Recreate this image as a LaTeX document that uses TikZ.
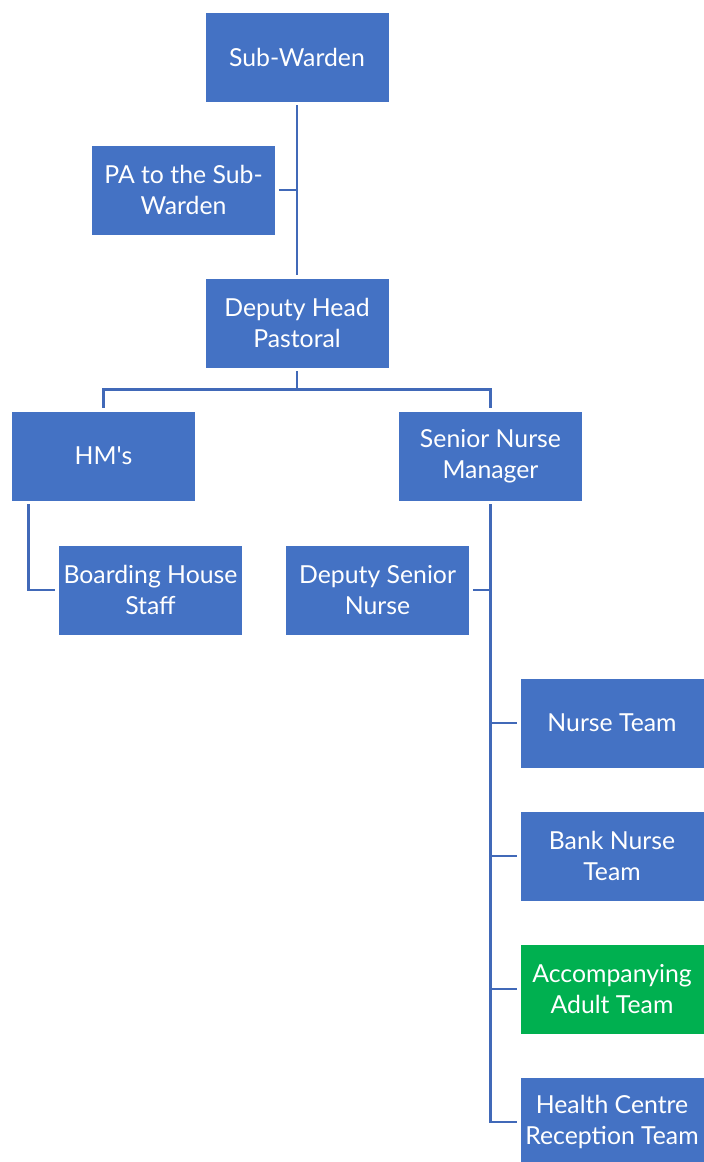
\documentclass[tikz,border=0pt]{standalone}
\usepackage{fontspec}
\setmainfont{Lato}
\usetikzlibrary{calc}
\definecolor{unitblue}{HTML}{4472C4}
\definecolor{unitgreen}{HTML}{00B050}
\definecolor{linkblue}{HTML}{4169B8}
\tikzset{
  unit/.style={draw=white, line width=0.6pt, fill=unitblue, text=white,
    minimum width=184pt, minimum height=90pt, inner sep=0pt, align=center,
    font=\fontsize{24.8}{31.5}\selectfont},
  link/.style={draw=linkblue, line width=2.6pt, shorten <=3pt, shorten >=3pt}
}
\begin{document}
\begin{tikzpicture}[x=1pt, y=-1pt]
  \useasboundingbox (0,0) rectangle (704,1162);
  % boxes
  \node[unit] (sw)   at (297,57)    {Sub-Warden};
  \node[unit] (pa)   at (183.5,190) {PA to the Sub-\\Warden};
  \node[unit] (dhp)  at (297,323)   {Deputy Head\\Pastoral};
  \node[unit] (hms)  at (103.5,456) {HM\textquotesingle s};
  \node[unit] (snm)  at (490.5,456) {Senior Nurse\\Manager};
  \node[unit] (bhs)  at (150.5,590) {Boarding House\\Staff};
  \node[unit] (dsn)  at (377.5,590) {Deputy Senior\\Nurse};
  \node[unit] (nt)   at (612,723)   {Nurse Team};
  \node[unit] (bnt)  at (612,856)   {Bank Nurse\\Team};
  \node[unit, fill=unitgreen] (aat) at (612,989) {Accompanying\\Adult Team};
  \node[unit] (hcrt) at (612,1122)  {Health Centre\\Reception Team};
  % connectors
  \draw[link] (sw.south) -- (dhp.north);
  \draw[link, shorten >=0pt] (pa.east) -- (pa.east -| sw.south);
  \coordinate (fork) at ($(dhp.south)!0.5!(dhp.south |- hms.north)$);
  \draw[link, shorten >=0pt] (dhp.south) -- (fork);
  \draw[link] (hms.north) |- (fork) -| (snm.north);
  \draw[link] ([xshift=17pt]hms.south west) |- (bhs.west);
  \draw[link, shorten >=0pt] (dsn.east) -- (dsn.east -| snm.south);
  \draw[link] (snm.south) |- (hcrt.west);
  \foreach \n in {nt,bnt,aat} % team branches off the spine
    \draw[link, shorten <=0pt] (snm.south |- \n.west) -- (\n.west);
\end{tikzpicture}
\end{document}
